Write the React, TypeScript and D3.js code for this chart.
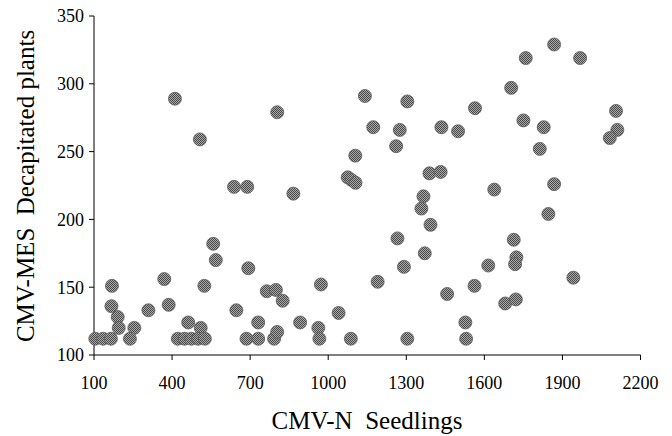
import React from 'react'
import * as d3 from 'd3'

// CMV-N seedlings (x) vs CMV-MES decapitated plants (y)
const seedlings = [
  411, 507, 638, 689, 804, 866, 1141, 1173, 1104, 1075, 1090, 1105,
  1868, 1759, 1968, 1703, 1304, 1564, 1275, 1261, 1435, 1499, 1750, 1828, 1813, 2106, 2111, 2082,
  1389, 1432, 1366, 1358, 1638, 1868, 1846,
  1393, 1266, 1371, 1291, 1190, 1457, 1562, 1615, 1713, 1723, 1718, 1942, 1680, 1721, 1527, 1530, 1304,
  558, 568, 693, 370, 524, 169, 972, 764, 799, 825, 387, 309, 647, 1040,
  167, 191, 195, 255, 238, 105, 135, 165, 462, 510,
  422, 448, 474, 500, 526, 686, 731, 731, 792, 804, 892, 962, 966, 1087,
]
const decapitated = [
  289, 259, 224, 224, 279, 219, 291, 268, 247, 231, 229, 227,
  329, 319, 319, 297, 287, 282, 266, 254, 268, 265, 273, 268, 252, 280, 266, 260,
  234, 235, 217, 208, 222, 226, 204,
  196, 186, 175, 165, 154, 145, 151, 166, 185, 172, 167, 157, 138, 141, 124, 112, 112,
  182, 170, 164, 156, 151, 151, 152, 147, 148, 140, 137, 133, 133, 131,
  136, 128, 120, 120, 112, 112, 112, 112, 124, 120,
  112, 112, 112, 112, 112, 112, 112, 124, 112, 117, 124, 120, 112, 112,
]
const xTicks = [100, 400, 700, 1000, 1300, 1600, 1900, 2200]
const yTicks = [100, 150, 200, 250, 300, 350]

const W = 672, H = 436
const font = '"Liberation Serif", "Times New Roman", serif'

export default function App() {
  const x = d3.scaleLinear().domain([100, 2200]).range([94, 640.5])
  const y = d3.scaleLinear().domain([100, 350]).range([355, 16])
  const pts = seedlings.map((s, i) => ({ s, d: decapitated[i] }))

  return (
    <svg width={W} height={H} style={{ position: 'absolute', left: 0, top: 0, background: '#fff' }}>
      <defs>
        <pattern id="ht" width={2} height={2} patternUnits="userSpaceOnUse">
          <rect width={2} height={2} fill="#a8a8a8" />
          <rect x={0} y={0} width={1} height={1} fill="#4a4a4a" />
          <rect x={1} y={1} width={1} height={1} fill="#4a4a4a" />
        </pattern>
      </defs>

      {/* y axis */}
      <line x1={x(100)} x2={x(100)} y1={y(350)} y2={y(100)} stroke="#000" />
      {yTicks.map(t => (
        <g key={t}>
          <line x1={x(100) - 5} x2={x(100)} y1={y(t)} y2={y(t)} stroke="#000" />
          <text x={x(100) - 10} y={y(t)} dy="0.35em" textAnchor="end" fontFamily={font} fontSize={18}>{t}</text>
        </g>
      ))}

      {/* x axis */}
      <line x1={x(100)} x2={x(2200)} y1={y(100)} y2={y(100)} stroke="#000" />
      {xTicks.map(t => (
        <g key={t}>
          <line x1={x(t)} x2={x(t)} y1={y(100)} y2={y(100) + 5} stroke="#000" />
          <text x={x(t)} y={389} textAnchor="middle" fontFamily={font} fontSize={18}>{t}</text>
        </g>
      ))}

      {pts.map((p, i) => (
        <circle key={i} cx={x(p.s)} cy={y(p.d)} r={6.5} fill="url(#ht)" stroke="#5a5a5a" strokeWidth={0.8} />
      ))}

      <text x={367} y={429} textAnchor="middle" fontFamily={font} fontSize={25} style={{ whiteSpace: 'pre' }}>
        {'CMV-N  Seedlings'}
      </text>
      <text transform="translate(34,186) rotate(-90)" textAnchor="middle" fontFamily={font} fontSize={25} style={{ whiteSpace: 'pre' }}>
        {'CMV-MES  Decapitated plants'}
      </text>
    </svg>
  )
}
